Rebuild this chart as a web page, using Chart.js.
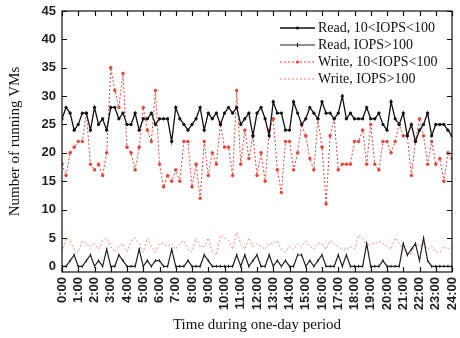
<!DOCTYPE html>
<html lang="en">
<head>
  <meta charset="UTF-8" />
  <title>Running VMs during one day</title>
  <script src="https://cdn.jsdelivr.net/npm/chart.js"></script>
  <style>
    body { margin: 0; background: #fff; }
    canvas { display: block; }
  </style>
</head>
<body>
  <canvas id="vmChart" width="460" height="338"></canvas>

  <script>
    // samples every 15 minutes, in hours since 0:00
    const hours = Array.from({ length: 97 }, (_, i) => i / 4);

    const xTicks = [0, 1, 2, 3, 4, 5, 6, 7, 8, 9, 10, 11, 12, 13, 14, 15, 16, 17, 18, 19, 20, 21, 22, 23, 24];
    const xTickLabels = ['0:00', '1:00', '2:00', '3:00', '4:00', '5:00', '6:00', '7:00', '8:00', '9:00', '10:00', '11:00',
      '12:00', '13:00', '14:00', '15:00', '16:00', '17:00', '18:00', '19:00', '20:00', '21:00', '22:00', '23:00', '24:00'];
    const yTicks = [0, 5, 10, 15, 20, 25, 30, 35, 40, 45];

    const read10to100 = [
      26, 28, 27, 24, 25, 27, 27, 24, 28, 25, 26, 24, 28, 28, 26, 27, 25, 25, 27, 24, 26, 26, 27, 25, 26,
      26, 26, 22, 28, 26, 25, 24, 25, 26, 28, 24, 27, 26, 27, 25, 27, 28, 27, 28, 25, 26, 27, 23,
      27, 28, 26, 23, 29, 27, 27, 24, 24, 29, 27, 25, 26, 28, 27, 26, 29, 27, 27, 26, 27, 30, 26,
      27, 26, 26, 26, 28, 26, 26, 27, 25, 24, 29, 26, 25, 27, 23, 25, 22, 24, 25, 27, 23, 25, 25, 25, 24, 23
    ];
    const readOver100 = [
      0, 0, 1, 2, 0, 0, 1, 2, 0, 1, 0, 3, 0, 0, 2, 1, 0, 0, 0, 3, 0, 1, 0, 1, 1,
      0, 0, 3, 0, 0, 0, 1, 0, 0, 0, 2, 1, 0, 0, 0, 0, 0, 0, 2, 0, 2, 0, 1,
      2, 0, 0, 2, 0, 1, 0, 1, 0, 0, 2, 2, 0, 1, 0, 1, 2, 0, 0, 0, 2, 0, 2,
      0, 0, 0, 0, 4, 0, 0, 0, 1, 0, 0, 0, 0, 4, 2, 3, 4, 1, 5, 1, 0, 0, 0, 0, 0, 0
    ];
    const write10to100 = [
      18, 16, 20, 21, 22, 22, 27, 18, 17, 18, 16, 20, 35, 31, 28, 34, 21, 20, 17, 21, 28, 24, 22, 31, 18,
      14, 16, 15, 17, 15, 22, 22, 14, 18, 12, 22, 16, 20, 18, 25, 21, 21, 16, 31, 18, 24, 19, 23,
      16, 20, 15, 24, 26, 17, 13, 22, 22, 17, 20, 25, 23, 19, 17, 26, 21, 11, 23, 26, 17, 18, 18,
      18, 22, 22, 24, 18, 25, 18, 17, 22, 22, 20, 22, 25, 23, 23, 16, 22, 26, 23, 18, 22, 18, 19, 15, 20, 19
    ];
    const writeOver100 = [
      2.5, 5, 4.5, 3, 2.5, 4.5, 4, 3.5, 4, 3, 4.5, 5, 3.5, 2.5, 3.5, 4, 2.5, 4.5, 5, 4, 2.5, 5, 3.5, 2.5, 4,
      4, 3.5, 4, 3, 4, 4.5, 3, 2.5, 5, 3.5, 3.5, 5, 2.5, 2, 5.5, 5, 4.5, 3, 6, 4, 3, 5, 3.5,
      4, 3.5, 3, 4, 4, 4.5, 3, 2.5, 3.5, 3, 4, 3.5, 4.5, 3.5, 3, 4, 4, 3, 4.5, 4, 3.5, 3, 3,
      3.5, 3, 5.5, 5, 3.5, 4, 4, 4.5, 4, 3.5, 3, 5, 4, 3, 2.5, 2, 4, 3.5, 4, 3, 3.5, 2.5, 2.5, 3.5, 3, 3.5
    ];

    const RED = '#e2453a';
    const RED_LIGHT = 'rgba(232, 100, 90, 0.75)';

    const toPoints = values => values.map((v, i) => ({ x: hours[i], y: v }));

    const series = [
      { label: 'Read, 10<IOPS<100', values: read10to100, color: '#111', dash: [], width: 1.3, point: 'circle', radius: 1.2 },
      { label: 'Read, IOPS>100', values: readOver100, color: '#222', dash: [], width: 1.2, point: 'line', radius: 1.5 },
      { label: 'Write, 10<IOPS<100', values: write10to100, color: RED, dash: [2, 2], width: 1, point: 'circle', radius: 1.3 },
      { label: 'Write, IOPS>100', values: writeOver100, color: RED_LIGHT, dash: [2, 2], width: 1, point: 'circle', radius: 0 }
    ];

    // frame with inward ticks on all four sides, plus a line+marker legend
    const frameAndLegend = {
      id: 'frameAndLegend',
      afterDatasetsDraw(chart) {
        const { ctx, chartArea: a, scales: { x, y } } = chart;
        ctx.save();
        ctx.strokeStyle = '#111';
        ctx.lineWidth = 1.2;
        ctx.setLineDash([]);
        ctx.strokeRect(a.left, a.top, a.right - a.left, a.bottom - a.top);
        ctx.beginPath();
        xTicks.forEach(v => {
          const px = Math.round(x.getPixelForValue(v)) + 0.5;
          ctx.moveTo(px, a.bottom); ctx.lineTo(px, a.bottom - 5);
          ctx.moveTo(px, a.top); ctx.lineTo(px, a.top + 5);
        });
        yTicks.forEach(v => {
          const py = Math.round(y.getPixelForValue(v)) + 0.5;
          ctx.moveTo(a.left, py); ctx.lineTo(a.left + 5, py);
          ctx.moveTo(a.right, py); ctx.lineTo(a.right - 5, py);
        });
        ctx.stroke();

        // legend
        const lx = a.right - 172;
        ctx.font = '14px "Liberation Serif", "Times New Roman", serif';
        ctx.textBaseline = 'middle';
        series.forEach((s, i) => {
          const ly = a.top + 17 + i * 17;
          ctx.strokeStyle = s.color;
          ctx.lineWidth = s.width;
          ctx.setLineDash(s.dash);
          ctx.beginPath();
          ctx.moveTo(lx, ly); ctx.lineTo(lx + 35, ly);
          ctx.stroke();
          ctx.setLineDash([]);
          if (s.point === 'circle' && s.radius > 0) {
            ctx.fillStyle = s.color;
            ctx.beginPath();
            ctx.arc(lx + 17.5, ly, 1.6, 0, Math.PI * 2);
            ctx.fill();
          } else if (s.point === 'line') {
            ctx.beginPath();
            ctx.moveTo(lx + 17.5, ly - 2); ctx.lineTo(lx + 17.5, ly + 2);
            ctx.stroke();
          }
          ctx.fillStyle = '#111';
          ctx.fillText(s.label, lx + 38, ly);
        });
        ctx.restore();
      }
    };

    new Chart(document.getElementById('vmChart'), {
      type: 'line',
      data: {
        datasets: series.map(s => ({
          label: s.label,
          data: toPoints(s.values),
          borderColor: s.color,
          backgroundColor: s.color,
          borderWidth: s.width,
          borderDash: s.dash,
          pointStyle: s.point,
          pointRotation: s.point === 'line' ? 90 : 0,
          pointRadius: s.radius,
          pointBorderWidth: 1,
          tension: 0,
          fill: false
        }))
      },
      options: {
        responsive: false,
        devicePixelRatio: 1,
        animation: false,
        layout: { padding: { left: 0, right: 8, top: 11, bottom: 0 } },
        plugins: {
          legend: { display: false },
          tooltip: { enabled: false }
        },
        scales: {
          x: {
            type: 'linear',
            min: 0,
            max: 24,
            grid: { display: false, drawTicks: false },
            border: { display: false },
            afterBuildTicks: scale => { scale.ticks = xTicks.map(v => ({ value: v })); },
            afterFit: scale => {
              scale.height = 66;
              scale.paddingLeft = 0;
              scale.paddingRight = 0;
            },
            ticks: {
              autoSkip: false,
              minRotation: 90,
              maxRotation: 90,
              padding: 5,
              color: '#222',
              font: { family: 'Liberation Sans', size: 13, weight: 'bold' },
              callback: (v, i) => xTickLabels[i]
            },
            title: {
              display: true,
              text: 'Time during one-day period',
              color: '#111',
              padding: { top: 0, bottom: 4 },
              font: { family: 'Liberation Serif', size: 15 }
            }
          },
          y: {
            min: -1,
            max: 45,
            grid: { display: false, drawTicks: false },
            border: { display: false },
            afterBuildTicks: scale => { scale.ticks = yTicks.map(v => ({ value: v })); },
            afterFit: scale => {
              scale.width = 62;
              scale.paddingTop = 0;
              scale.paddingBottom = 0;
            },
            ticks: {
              padding: 6,
              color: '#222',
              font: { family: 'Liberation Sans', size: 13, weight: 'bold' }
            },
            title: {
              display: true,
              text: 'Number of running VMs',
              color: '#111',
              padding: { top: 6, bottom: 0 },
              font: { family: 'Liberation Serif', size: 15 }
            }
          }
        }
      },
      plugins: [frameAndLegend]
    });
  </script>
</body>
</html>
